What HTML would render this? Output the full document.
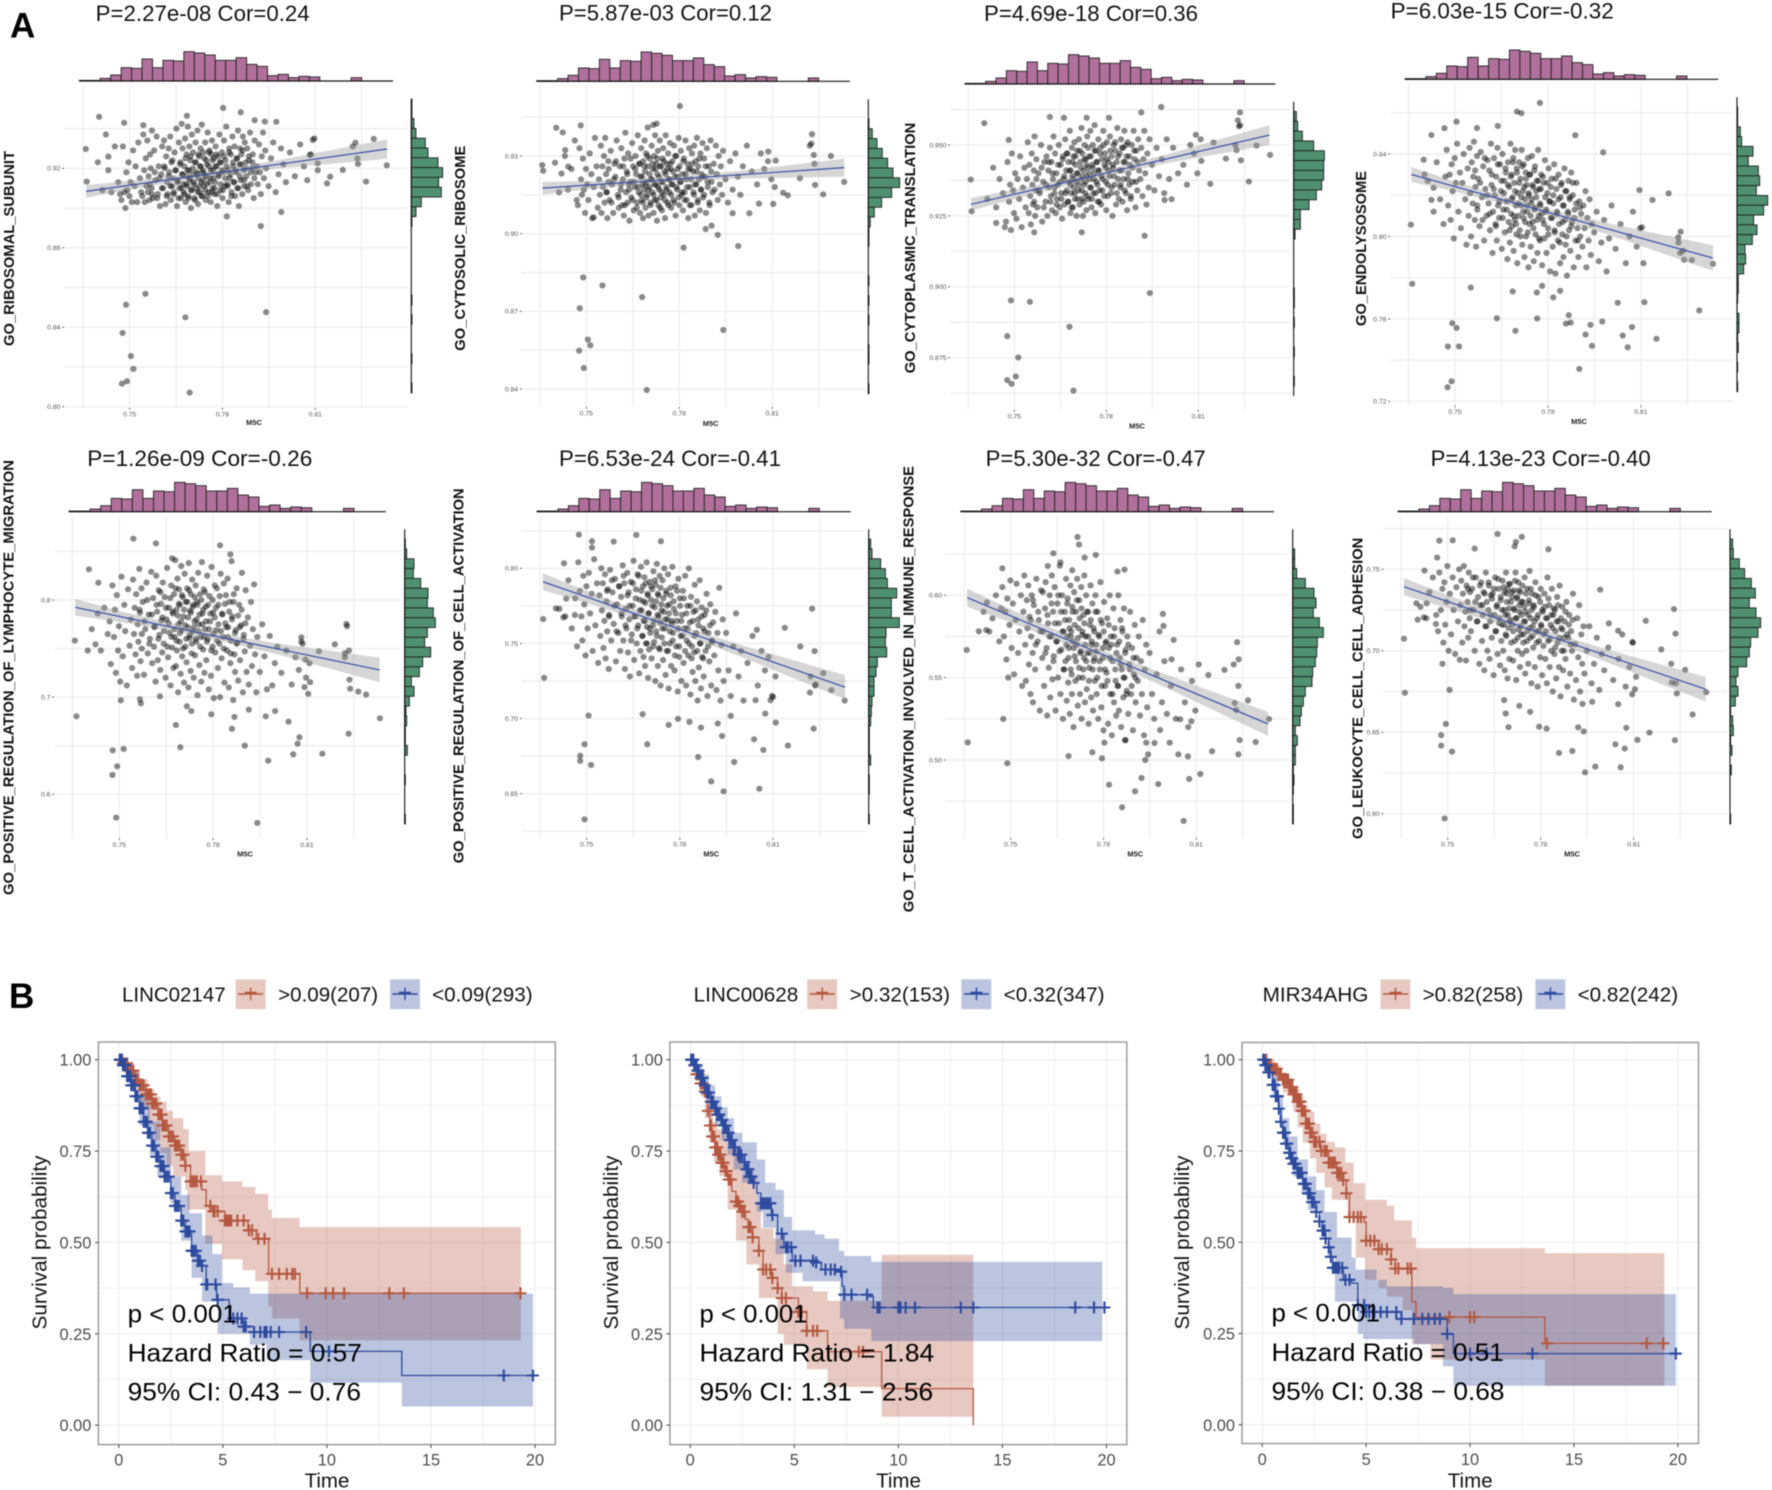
<!DOCTYPE html>
<html lang="en">
<head>
<meta charset="utf-8">
<title>M5C correlation scatter plots and survival curves</title>
<style>
html,body{margin:0;padding:0;background:#fff;width:1772px;height:1490px;overflow:hidden}
svg{display:block;filter:blur(.5px)}
text{font-family:"Liberation Sans",sans-serif}
.t{font-size:22px;fill:#111}
.yl{font-size:15px;font-weight:bold;fill:#111}
.xl{font-size:7.5px;font-weight:bold;fill:#222;text-anchor:middle}
.tag{font-size:35px;font-weight:bold;fill:#000}
.leg{font-size:20.5px;fill:#111}
.ann{font-size:25px;fill:#000}
.kax{font-size:20.5px;fill:#111}
</style>
</head>
<body>
<svg id="figure" width="1772" height="1490" viewBox="0 0 1772 1490" xmlns="http://www.w3.org/2000/svg">
<rect width="1772" height="1490" fill="#fff"/>
<g id="marks"></g>

<text class="tag" x="10" y="37.5">A</text>
<text class="tag" x="9" y="1008">B</text>

<text class="t" x="95.7" y="21" textLength="214" lengthAdjust="spacingAndGlyphs">P=2.27e-08 Cor=0.24</text>
<text class="t" x="559" y="20.7" textLength="213" lengthAdjust="spacingAndGlyphs">P=5.87e-03 Cor=0.12</text>
<text class="t" x="984" y="21" textLength="214" lengthAdjust="spacingAndGlyphs">P=4.69e-18 Cor=0.36</text>
<text class="t" x="1390.7" y="18.3" textLength="223" lengthAdjust="spacingAndGlyphs">P=6.03e-15 Cor=-0.32</text>
<text class="t" x="87.3" y="466" textLength="225" lengthAdjust="spacingAndGlyphs">P=1.26e-09 Cor=-0.26</text>
<text class="t" x="559" y="466" textLength="222" lengthAdjust="spacingAndGlyphs">P=6.53e-24 Cor=-0.41</text>
<text class="t" x="985.7" y="466" textLength="220" lengthAdjust="spacingAndGlyphs">P=5.30e-32 Cor=-0.47</text>
<text class="t" x="1430.7" y="466" textLength="220" lengthAdjust="spacingAndGlyphs">P=4.13e-23 Cor=-0.40</text>

<text class="yl" transform="translate(14,346) rotate(-90)" textLength="195" lengthAdjust="spacingAndGlyphs">GO_RIBOSOMAL_SUBUNIT</text>
<text class="yl" transform="translate(465,350.7) rotate(-90)" textLength="205" lengthAdjust="spacingAndGlyphs">GO_CYTOSOLIC_RIBOSOME</text>
<text class="yl" transform="translate(915,373.3) rotate(-90)" textLength="250.6" lengthAdjust="spacingAndGlyphs">GO_CYTOPLASMIC_TRANSLATION</text>
<text class="yl" transform="translate(1366,326) rotate(-90)" textLength="155" lengthAdjust="spacingAndGlyphs">GO_ENDOLYSOSOME</text>
<text class="yl" transform="translate(13.3,895) rotate(-90)" textLength="435" lengthAdjust="spacingAndGlyphs">GO_POSITIVE_REGULATION_OF_LYMPHOCYTE_MIGRATION</text>
<text class="yl" transform="translate(463.3,863.3) rotate(-90)" textLength="375" lengthAdjust="spacingAndGlyphs">GO_POSITIVE_REGULATION_OF_CELL_ACTIVATION</text>
<text class="yl" transform="translate(913.3,912.3) rotate(-90)" textLength="446.3" lengthAdjust="spacingAndGlyphs">GO_T_CELL_ACTIVATION_INVOLVED_IN_IMMUNE_RESPONSE</text>
<text class="yl" transform="translate(1362.7,839) rotate(-90)" textLength="301.3" lengthAdjust="spacingAndGlyphs">GO_LEUKOCYTE_CELL_CELL_ADHESION</text>

<text class="xl" x="254" y="425">M5C</text>
<text class="xl" x="710.7" y="426">M5C</text>
<text class="xl" x="1137" y="428.7">M5C</text>
<text class="xl" x="1579" y="424">M5C</text>
<text class="xl" x="245" y="856.3">M5C</text>
<text class="xl" x="711.3" y="856.3">M5C</text>
<text class="xl" x="1135.3" y="856.3">M5C</text>
<text class="xl" x="1572" y="856.3">M5C</text>

<text class="leg" x="122" y="1001.4" textLength="103.6" lengthAdjust="spacingAndGlyphs">LINC02147</text>
<text class="leg" x="278.2" y="1001.4" textLength="99.9" lengthAdjust="spacingAndGlyphs">&gt;0.09(207)</text>
<text class="leg" x="432.1" y="1001.4" textLength="100.6" lengthAdjust="spacingAndGlyphs">&lt;0.09(293)</text>
<text class="leg" x="693.6" y="1001.4" textLength="104.7" lengthAdjust="spacingAndGlyphs">LINC00628</text>
<text class="leg" x="849.7" y="1001.4" textLength="100.3" lengthAdjust="spacingAndGlyphs">&gt;0.32(153)</text>
<text class="leg" x="1003.6" y="1001.4" textLength="101" lengthAdjust="spacingAndGlyphs">&lt;0.32(347)</text>
<text class="leg" x="1262.6" y="1001.4" textLength="105.8" lengthAdjust="spacingAndGlyphs">MIR34AHG</text>
<text class="leg" x="1422.6" y="1001.4" textLength="100.7" lengthAdjust="spacingAndGlyphs">&gt;0.82(258)</text>
<text class="leg" x="1577.6" y="1001.4" textLength="100.6" lengthAdjust="spacingAndGlyphs">&lt;0.82(242)</text>

<text class="ann" x="127.6" y="1322.3" textLength="109.2" lengthAdjust="spacingAndGlyphs">p &lt; 0.001</text>
<text class="ann" x="127.6" y="1361.3" textLength="234.2" lengthAdjust="spacingAndGlyphs">Hazard Ratio = 0.57</text>
<text class="ann" x="127.6" y="1400.3" textLength="233.4" lengthAdjust="spacingAndGlyphs">95% CI: 0.43 − 0.76</text>
<text class="ann" x="699.5" y="1322.3" textLength="108" lengthAdjust="spacingAndGlyphs">p &lt; 0.001</text>
<text class="ann" x="699.5" y="1361.3" textLength="234.6" lengthAdjust="spacingAndGlyphs">Hazard Ratio = 1.84</text>
<text class="ann" x="699.5" y="1400.3" textLength="233.6" lengthAdjust="spacingAndGlyphs">95% CI: 1.31 − 2.56</text>
<text class="ann" x="1271.5" y="1321.5" textLength="108.5" lengthAdjust="spacingAndGlyphs">p &lt; 0.001</text>
<text class="ann" x="1271.5" y="1361" textLength="232.2" lengthAdjust="spacingAndGlyphs">Hazard Ratio = 0.51</text>
<text class="ann" x="1271.5" y="1400" textLength="233" lengthAdjust="spacingAndGlyphs">95% CI: 0.38 − 0.68</text>

<text class="kax" x="327" y="1487.7" text-anchor="middle">Time</text>
<text class="kax" x="898.5" y="1487.7" text-anchor="middle">Time</text>
<text class="kax" x="1470.2" y="1487.7" text-anchor="middle">Time</text>
<text class="kax" transform="translate(46.6,1329.5) rotate(-90)" textLength="174" lengthAdjust="spacingAndGlyphs">Survival probability</text>
<text class="kax" transform="translate(618,1329.5) rotate(-90)" textLength="174" lengthAdjust="spacingAndGlyphs">Survival probability</text>
<text class="kax" transform="translate(1189.2,1329.5) rotate(-90)" textLength="174" lengthAdjust="spacingAndGlyphs">Survival probability</text>
</svg>

<script>
// ---------- shared scatter data ----------
const xTickLabels=['0.75','0.78','0.81'];
const xMinorTicks=[.735,.765,.795,.825];
const m5cHistCounts=[1,1,4,9,20,19,33,20,31,30,44,42,39,31,31,35,25,22,8,10,5,7,6,0,0,0,5,0,0,0];
const m5cCore=[.7412,.7431,.7441,.7452,.7463,.7469,.7473,.7478,.7483,.7486,.7489,.7492,.7496,.7499,.7503,.7507,.7511,.7516,.7519,.7524,.7528,.7533,.7537,
.7541,.7544,.7547,.7549,.7552,.7554,.7557,.7559,.7561,.7564,.7566,.7568,.7571,.7572,.7575,.7579,.7583,.7587,.7591,.7594,.7598,.7602,.7605,
.7608,.7611,.7613,.7616,.7618,.7621,.7623,.7626,.7628,.7631,.7633,.7635,.7637,.7639,.7642,.7645,.7648,.7651,.7653,.7656,.7659,.7661,.7664,.7666,.7669,.7671,.7673,
.7675,.7677,.7679,.7681,.7683,.7684,.7686,.7688,.7689,.7691,.7693,.7694,.7696,.7698,.7699,.7701,.7703,.7705,.7707,
.7709,.7711,.7713,.7715,.7717,.7719,.7721,.7722,.7724,.7726,.7728,.7729,.7731,.7733,.7735,.7737,.7738,.7740,
.7742,.7744,.7746,.7748,.7750,.7752,.7754,.7756,.7758,.7760,.7762,.7764,.7766,.7768,.7770,.7772,.7774,
.7776,.7778,.7781,.7783,.7786,.7788,.7790,.7793,.7795,.7798,.7800,.7802,.7805,.7807,
.7810,.7812,.7815,.7817,.7820,.7822,.7824,.7827,.7829,.7832,.7834,.7836,.7839,.7841,
.7844,.7846,.7848,.7850,.7853,.7855,.7857,.7859,.7861,.7864,.7866,.7868,.7870,.7872,.7875,
.7877,.7880,.7883,.7886,.7889,.7892,.7895,.7898,.7901,.7904,.7907,.7911,.7914,.7918,.7921,.7924,.7927,.7931,.7934,.7938,.7941,
.7949,.7957,.7964,.7972,.7981,.7989,.7997,.8005,.8018,.8034,.8051,.8063,.8074,.8086,.8097,.8108,.8221,.8236];
const m5cDense=[.7565,.7572,.7581,.7589,.7596,.7604,.7612,.7619,.7625,.7632,.7638,.7643,.7649,.7654,.7658,.7663,.7667,.7671,.7676,.7680,.7683,.7687,.7690,.7694,.7697,.7700,.7704,.7707,.7711,.7714,.7717,.7720,.7723,.7726,.7729,.7732,.7735,.7738,.7741,.7744,.7747,.7750,.7753,.7756,.7759,.7762,.7765,.7768,.7771,.7774,.7777,.7780,.7784,.7787,.7791,.7794,.7798,.7801,.7805,.7809,.7813,.7817,.7821,.7825,.7829,.7834,.7838,.7842,.7847,.7851,.7856,.7860,.7865,.7870,.7875,.7880,.7885,.7891,.7897,.7903];
const fitX=[.7359,.8332];
const ciX=[.7359,.75,.7775,.80,.8332];

// ---------- panel 1: GO_RIBOSOMAL_SUBUNIT ----------
const p1YTickLabels=['0.80','0.84','0.88','0.92'];
const p1YMinor=[.82,.86,.90,.94];
const p1Core=[.909,.919,.908,.931,.913,.907,.904,.931,.908,.900,.918,.909,.923,.906,.913,.903,.929,.911,.921,.903,.933,.915,.908,
.906,.937,.919,.903,.925,.911,.934,.908,.916,.904,.927,.920,.910,.939,.905,.929,.914,.936,.907,.921,.901,.917,.931,
.910,.934,.920,.902,.926,.913,.907,.930,.918,.936,.904,.923,.911,.915,.907,.928,.919,.940,.901,.914,.933,.910,.923,.905,.917,.930,.912,
.908,.921,.935,.903,.916,.927,.911,.941,.906,.919,.931,.914,.924,.900,.909,.937,.917,.928,.912,
.905,.923,.933,.910,.918,.939,.902,.915,.926,.908,.921,.930,.913,.942,.906,.919,.928,.911,
.917,.933,.904,.924,.912,.938,.908,.921,.929,.915,.903,.927,.934,.910,.919,.925,.907,
.913,.931,.921,.901,.926,.916,.937,.909,.923,.928,.905,.918,.934,.911,
.924,.941,.912,.919,.903,.930,.915,.927,.908,.936,.921,.913,.931,.906,
.918,.925,.910,.939,.901,.922,.930,.914,.927,.907,.936,.919,.911,.933,.923,
.916,.930,.909,.924,.938,.912,.920,.927,.905,.934,.918,.921,.912,.932,.918,.907,.926,.938,.915,.929,.920,
.911,.925,.933,.908,.917,.930,.922,.913,.928,.916,.932,.921,.914,.927,.935,.919,.931,.925];
const p1Dense=[.912,.907,.918,.905,.915,.910,.921,.906,.916,.911,.924,.908,.919,.913,.905,.922,.910,.917,.907,.925,.912,.919,.905,.915,.926,.909,.920,.913,.904,.923,.917,.908,.927,.911,.921,.906,.918,.914,.925,.909,.916,.922,.906,.928,.913,.919,.908,.924,.915,.910,.921,.927,.907,.917,.923,.912,.919,.909,.926,.915,.921,.911,.928,.917,.906,.923,.913,.919,.925,.910,.916,.922,.929,.914,.920,.911,.926,.918,.923,.915];
const p1OutX=[.7477,.7504,.7512,.7475,.7491,.7488,.7551,.768,.7941,.7694,.7924,.799,.7814,.7358,.7361,.7401,.7423,.7397,.7431,.7802,.7859,.7685,.7482,.7544,.7668,.7904,.7937,.7974,.8289,.8331,.8264,.8238,.823,.8189,.8148,.8138,.8092,.8082,.8108];
const p1OutY=[.8371,.8255,.819,.8116,.8128,.8513,.8568,.845,.8476,.8071,.8909,.898,.8958,.9297,.9133,.9459,.937,.923,.9259,.9504,.9482,.9464,.9429,.9417,.9424,.9442,.9435,.9434,.9348,.9215,.9133,.9222,.9329,.9192,.9158,.9124,.9343,.9267,.9225];
const p1Fit=[.9084,.9297];
const p1CiLow=[.9052,.9093,.9163,.9202,.9248];
const p1CiHigh=[.9116,.9137,.9187,.9246,.9346];
const p1Hist=[1,1,4,7,21,25,40,47,41,45,15,7,1,0,0,0,0,0,0,0,1,0,1,0,0,0,1,0,0,1];

// ---------- panel 2: GO_CYTOSOLIC_RIBOSOME ----------
const p2YTickLabels=['0.84','0.87','0.90','0.93'];
const p2YMinor=[.855,.885,.915,.945];
const p2Core=[.916,.930,.917,.925,.936,.913,.911,.933,.921,.915,.929,.917,.908,.925,.919,.913,.931,.923,.906,.918,.937,.926,.910,
.921,.915,.934,.908,.926,.918,.930,.912,.937,.923,.916,.906,.928,.920,.913,.932,.919,.908,.927,.922,.936,.915,.910,
.926,.917,.933,.911,.921,.907,.929,.939,.916,.924,.912,.931,.919,.905,.920,.914,.935,.926,.909,.918,.930,.923,.912,.938,.916,.927,.908,
.922,.933,.913,.919,.906,.928,.917,.936,.924,.910,.931,.920,.915,.941,.926,.907,.918,.929,.912,
.921,.934,.916,.925,.908,.930,.913,.938,.919,.927,.905,.923,.932,.911,.917,.936,.926,.914,
.920,.909,.929,.933,.915,.924,.906,.938,.918,.927,.912,.931,.921,.916,.935,.925,.910,
.919,.928,.913,.934,.922,.907,.930,.917,.925,.937,.911,.920,.932,.915,
.923,.909,.929,.916,.936,.921,.913,.927,.906,.933,.918,.925,.911,.931,
.924,.916,.934,.907,.928,.919,.937,.912,.926,.921,.909,.931,.917,.923,.935,
.914,.929,.922,.908,.933,.918,.926,.911,.936,.920,.916,.927,.917,.934,.923,.913,.930,.919,.926,.915,.932,
.921,.912,.928,.917,.931,.922,.915,.926,.934,.924,.919,.931,.925,.928,.921,.918,.934,.927];
const p2Dense=[.916,.925,.912,.921,.928,.914,.919,.926,.911,.923,.917,.929,.913,.920,.925,.910,.918,.927,.915,.922,.912,.926,.919,.914,.930,.917,.923,.911,.921,.927,.915,.919,.925,.913,.929,.918,.922,.910,.926,.916,.920,.928,.913,.923,.917,.925,.911,.921,.927,.915,.919,.924,.912,.930,.918,.922,.914,.926,.920,.916,.928,.913,.923,.918,.925,.911,.921,.927,.915,.919,.924,.913,.929,.917,.922,.915,.926,.920,.912,.924];
const p2OutX=[.749,.7552,.768,.7479,.7942,.7505,.7513,.7477,.7492,.7695,.7814,.799,.7924,.7885,.7904,.7524,.7802,.7482,.7403,.7424,.7716,.7727,.7432,.7399,.7358,.7361,.7442,.742,.8332,.8264,.8238,.8189,.8289,.8228,.8226,.8234,.8103,.8135,.815,.8111,.8087,.8057,.8026,.7972];
const p2OutY=[.8831,.88,.8755,.8712,.8628,.8591,.8569,.8548,.8481,.8396,.8946,.8952,.8995,.9018,.9031,.9063,.9493,.9418,.9409,.9391,.942,.9425,.9323,.9274,.9265,.9243,.9259,.9232,.92,.9152,.9188,.9214,.93,.9384,.9348,.9304,.9115,.9158,.9148,.9282,.9317,.9116,.9079,.9079];
const p2Fit=[.9176,.9255];
const p2CiLow=[.9152,.9171,.92,.9213,.922];
const p2CiHigh=[.92,.9203,.922,.9243,.929];
const p2Hist=[0,0,1,6,13,21,29,37,47,35,20,9,3,1,1,0,0,0,1,0,1,0,1,0,0,1,1,0,0,1];

// ---------- panel 3: GO_CYTOPLASMIC_TRANSLATION ----------
const p3YTickLabels=['0.875','0.900','0.925','0.950'];
const p3YMinor=[.8625,.8875,.9125,.9375,.9625];
const p3Core=[.931,.942,.928,.938,.933,.921,.923,.944,.930,.936,.920,.947,.934,.926,.940,.924,.938,.931,.946,.921,.935,.942,.928,
.938,.951,.926,.943,.932,.922,.947,.936,.929,.941,.953,.925,.934,.945,.928,.940,.933,.950,.923,.937,.944,.930,.946,
.925,.941,.935,.949,.930,.944,.927,.938,.953,.933,.947,.926,.940,.931,.936,.950,.928,.943,.933,.924,.946,.938,.929,.952,.941,.934,.947,
.930,.944,.937,.955,.926,.941,.933,.949,.939,.928,.946,.935,.951,.931,.943,.937,.925,.948,.940,
.934,.952,.929,.944,.938,.956,.931,.947,.925,.941,.936,.950,.933,.945,.927,.939,.953,.942,
.931,.946,.938,.955,.935,.928,.943,.950,.933,.940,.957,.926,.948,.937,.944,.930,.952,
.941,.934,.949,.929,.945,.938,.955,.932,.947,.942,.927,.951,.936,.944,
.939,.953,.933,.946,.925,.942,.950,.936,.948,.929,.944,.956,.938,.931,
.947,.935,.952,.941,.930,.949,.938,.955,.944,.933,.946,.927,.951,.940,.936,
.943,.931,.950,.937,.955,.945,.928,.948,.934,.952,.941,.938,.949,.932,.945,.955,.940,.929,.947,.935,.952,
.943,.934,.949,.939,.945,.933,.952,.938,.949,.940,.943,.936,.950,.947,.940,.952,.950,.957];
const p3Dense=[.930,.938,.934,.942,.928,.936,.944,.932,.940,.935,.929,.943,.937,.931,.945,.939,.933,.947,.930,.941,.936,.928,.944,.938,.933,.946,.940,.931,.936,.948,.942,.934,.939,.930,.945,.937,.943,.932,.949,.940,.935,.946,.931,.942,.938,.948,.933,.944,.936,.941,.930,.947,.939,.934,.950,.943,.937,.945,.932,.941,.948,.935,.943,.939,.951,.933,.946,.941,.936,.949,.944,.934,.950,.938,.946,.932,.942,.948,.937,.944];
const p3OutX=[.7489,.7551,.768,.7942,.7477,.7513,.7505,.7477,.7491,.7693,.7925,.772,.7565,.7441,.7402,.7482,.7616,.7662,.7736,.7809,.7914,.7979,.7358,.7361,.8236,.8229,.8233,.8334,.829,.8265,.8239,.8225,.819,.8139,.815,.811,.8092,.8013,.799];
const p3OutY=[.8952,.8947,.8859,.8978,.8826,.8751,.8684,.8671,.8658,.8634,.918,.9192,.9192,.9225,.9577,.9518,.9599,.9596,.9596,.9596,.9615,.9634,.9378,.9266,.9615,.9587,.9566,.9465,.9498,.9371,.9446,.9482,.9452,.9363,.9509,.9444,.9536,.9309,.9306];
const p3Fit=[.9291,.9535];
const p3CiLow=[.9269,.9309,.9385,.9436,.95];
const p3CiHigh=[.9313,.9343,.9405,.9468,.957];
const p3Hist=[0,4,6,13,30,46,45,45,42,34,23,10,10,2,0,0,0,0,0,1,1,0,1,0,0,1,0,0,1,0];

// ---------- panel 4: GO_ENDOLYSOSOME ----------
const p4YTickLabels=['0.72','0.76','0.80','0.84'];
const p4YMinor=[.74,.78,.82,.86];
const p4Core=[.827,.812,.836,.818,.806,.829,.842,.815,.830,.808,.835,.822,.799,.838,.826,.845,.812,.831,.804,.826,.840,.818,.796,
.833,.810,.843,.821,.800,.836,.816,.829,.846,.808,.824,.795,.839,.813,.828,.805,.841,.819,.834,.798,.823,.810,.837,
.816,.832,.803,.845,.825,.792,.812,.838,.820,.806,.829,.798,.843,.815,.809,.835,.822,.794,.840,.813,.827,.802,.831,.817,.789,.836,.807,
.824,.797,.845,.811,.830,.805,.819,.838,.793,.826,.808,.842,.815,.801,.833,.787,.821,.810,.836,
.803,.828,.815,.842,.796,.822,.809,.835,.790,.818,.831,.800,.825,.812,.838,.785,.820,.806,
.830,.795,.816,.839,.807,.824,.788,.813,.834,.801,.819,.827,.792,.842,.810,.823,.798,
.815,.830,.786,.808,.826,.799,.837,.812,.792,.821,.804,.833,.817,.783,
.809,.828,.795,.816,.835,.802,.782,.823,.811,.798,.830,.806,.787,.819,
.826,.801,.815,.790,.833,.808,.796,.822,.781,.812,.827,.803,.818,.793,.831,
.807,.820,.785,.813,.798,.826,.804,.790,.817,.800,.811,.795,.815,.804,.822,.785,.809,.798,.818,.791,.806,
.802,.812,.788,.797,.808,.783,.799,.815,.794,.806,.787,.800,.812,.795,.804,.787,.797,.793];
const p4Dense=[.832,.815,.826,.808,.838,.820,.811,.830,.823,.805,.835,.817,.827,.809,.821,.833,.813,.825,.803,.829,.818,.836,.810,.822,.806,.831,.816,.826,.800,.819,.834,.812,.824,.807,.828,.815,.802,.821,.830,.810,.818,.825,.804,.832,.814,.822,.808,.827,.799,.816,.823,.811,.829,.806,.819,.813,.826,.801,.817,.824,.809,.820,.803,.828,.812,.818,.797,.825,.807,.815,.822,.800,.811,.819,.805,.826,.809,.816,.798,.814];
const p4OutX=[.7362,.7358,.7491,.7505,.7477,.7513,.7476,.7489,.7901,.7635,.7695,.7765,.7551,.7686,.7764,.7781,.7817,.7839,.7867,.7858,.7873,.7937,.7975,.7921,.7942,.8025,.8111,.8041,.8071,.8057,.815,.8288,.8332,.8264,.8239,.8226,.8228,.822,.8189,.8137,.8103,.8095,.7505,.7424,.7466,.77,.7714,.7774,.7638,.7571,.7888,.7978,.7399,.7402,.7424,.7431];
const p4OutY=[.777,.8057,.7579,.7556,.7466,.7466,.7268,.7297,.7357,.7603,.7542,.7602,.7752,.7733,.7728,.776,.7704,.7736,.7618,.7577,.7582,.7571,.7587,.7524,.7469,.7678,.7681,.7519,.756,.7462,.7503,.7641,.7867,.7885,.7887,.792,.8023,.7995,.8209,.8177,.8044,.8225,.8557,.8492,.8525,.8606,.8598,.8648,.8536,.8526,.8491,.8408,.8372,.8301,.8177,.8236];
const p4Fit=[.8301,.7895];
const p4CiLow=[.8265,.8218,.8112,.8006,.7833];
const p4CiHigh=[.8337,.8266,.8142,.8062,.7957];
const p4Hist=[0,1,1,5,7,24,17,32,34,29,46,40,25,30,23,12,13,10,2,2,1,0,3,3,1,2,0,1,0,1];

// ---------- panel 5: GO_POSITIVE_REGULATION_OF_LYMPHOCYTE_MIGRATION ----------
const p5YTickLabels=['0.6','0.7','0.8'];
const p5YMinor=[.65,.75,.85];
const p5Core=[.770,.786,.748,.792,.765,.778,.734,.815,.762,.790,.725,.805,.748,.773,.716,.824,.742,.795,.768,.712,.811,.753,.780,
.730,.821,.765,.792,.744,.806,.722,.775,.757,.832,.787,.737,.812,.750,.798,.723,.770,.818,.745,.785,.760,.829,.735,
.802,.752,.773,.716,.825,.788,.738,.810,.764,.728,.796,.779,.746,.818,.755,.803,.720,.780,.833,.741,.792,.766,.712,.815,.751,.786,.730,
.806,.762,.841,.732,.790,.748,.822,.705,.775,.811,.757,.795,.724,.835,.769,.742,.803,.783,.715,
.827,.752,.798,.736,.812,.772,.710,.838,.761,.789,.727,.806,.745,.821,.768,.795,.720,.778,
.743,.815,.757,.798,.702,.828,.775,.733,.806,.762,.716,.839,.786,.749,.811,.725,.770,
.793,.738,.825,.760,.708,.804,.778,.722,.834,.752,.787,.699,.815,.746,
.769,.812,.730,.795,.755,.700,.827,.740,.785,.762,.817,.715,.776,.805,
.748,.822,.772,.710,.798,.735,.758,.840,.783,.697,.806,.744,.726,.769,.812,
.756,.717,.795,.738,.774,.828,.705,.764,.747,.810,.726,.782,.713,.753,.798,.732,.770,.816,.744,.705,.762,
.726,.775,.742,.708,.763,.712,.735,.752,.725,.748,.713,.741,.728,.755,.720,.735,.741,.718];
const p5Dense=[.790,.765,.778,.800,.755,.785,.772,.795,.760,.808,.782,.768,.792,.752,.776,.802,.762,.788,.770,.812,.758,.784,.796,.766,.778,.805,.750,.790,.774,.760,.798,.782,.810,.764,.787,.755,.793,.772,.803,.760,.780,.795,.768,.785,.752,.800,.775,.790,.762,.808,.778,.757,.795,.770,.786,.748,.800,.765,.782,.792,.758,.775,.804,.768,.786,.750,.796,.772,.762,.788,.745,.780,.798,.766,.755,.784,.772,.790,.760,.776];
const p5OutX=[.7363,.7358,.7399,.7424,.7403,.7433,.7545,.7617,.7822,.7855,.7669,.7479,.7514,.7493,.7478,.749,.7941,.7695,.7901,.7976,.8056,.8149,.8076,.807,.8233,.8333,.8041,.786,.7681,.7794,.8289,.8264,.8238,.8104,.811,.8092,.8095,.8138,.8189,.8221,.8234,.8226,.8228,.8082,.8082,.7998,.7968,.7868,.7914,.7505,.7566,.7569,.763,.7716,.773];
const p5OutY=[.6803,.7582,.7479,.7544,.8316,.8178,.8631,.8583,.8563,.847,.8429,.6453,.6467,.6288,.6199,.576,.5705,.6484,.6501,.6346,.6411,.6418,.6587,.6521,.6624,.6782,.6748,.6674,.6714,.6823,.7027,.7057,.7087,.7034,.7154,.7104,.7386,.7472,.7544,.7451,.7479,.7753,.7729,.7616,.7571,.6857,.6803,.6796,.6871,.6967,.6978,.6936,.7009,.6906,.6857];
const p5Fit=[.7925,.728];
const p5CiLow=[.7839,.7775,.7615,.7445,.7153];
const p5CiHigh=[.8011,.7887,.7683,.7555,.7407];
const p5Hist=[0,1,3,14,13,24,35,34,43,46,34,30,39,27,22,10,14,7,2,3,1,1,4,0,0,1,0,0,0,1];

// ---------- panel 6: GO_POSITIVE_REGULATION_OF_CELL_ACTIVATION ----------
const p6YTickLabels=['0.65','0.70','0.75','0.80'];
const p6YMinor=[.625,.675,.725,.775,.825];
const p6Core=[.773,.768,.792,.760,.780,.748,.804,.785,.768,.752,.795,.776,.742,.788,.760,.797,.770,.783,.745,.806,.762,.790,.737,
.782,.755,.800,.772,.790,.747,.765,.796,.740,.778,.758,.786,.733,.769,.799,.752,.784,.763,.793,.738,.776,.757,.788,
.745,.781,.768,.802,.752,.790,.733,.773,.760,.797,.744,.784,.766,.728,.791,.756,.775,.805,.739,.768,.786,.750,.796,.762,.730,.779,.745,
.801,.772,.755,.788,.741,.765,.794,.735,.777,.750,.804,.761,.783,.727,.770,.746,.791,.757,.779,
.740,.786,.762,.798,.751,.774,.725,.789,.758,.803,.769,.735,.782,.747,.795,.764,.722,.776,
.754,.792,.739,.771,.800,.760,.729,.783,.745,.766,.796,.720,.776,.750,.787,.735,.763,
.801,.757,.773,.732,.788,.748,.765,.718,.793,.741,.780,.755,.725,.769,
.785,.737,.760,.795,.722,.752,.775,.742,.800,.764,.716,.781,.748,.731,
.771,.744,.789,.725,.757,.778,.712,.766,.734,.792,.750,.720,.774,.741,.760,
.728,.769,.745,.783,.715,.757,.738,.776,.722,.751,.764,.742,.771,.719,.757,.732,.787,.712,.749,.766,.725,
.757,.732,.715,.748,.770,.728,.745,.712,.737,.755,.722,.745,.732,.741,.715,.728,.728,.722];
const p6Dense=[.785,.768,.792,.775,.758,.788,.770,.795,.762,.782,.775,.752,.790,.768,.780,.760,.795,.772,.785,.755,.778,.765,.790,.750,.782,.770,.760,.788,.775,.748,.765,.792,.778,.755,.783,.768,.746,.787,.772,.760,.780,.750,.766,.785,.775,.745,.770,.758,.782,.765,.752,.778,.742,.770,.785,.760,.748,.775,.765,.755,.780,.745,.770,.760,.750,.775,.740,.765,.755,.772,.745,.762,.750,.768,.740,.758,.772,.748,.762,.752];
const p6OutX=[.736,.7363,.7475,.7517,.7517,.7587,.766,.7739,.7493,.7695,.7506,.7493,.7479,.7479,.7514,.7859,.7901,.7941,.8056,.7975,.7936,.8039,.8069,.8148,.8231,.8331,.8288,.8262,.8237,.8219,.8226,.8234,.8188,.8138,.8048,.8109,.8075,.7964,.7922,.7868,.7831,.7794,.7764,.768,.81,.8092,.8044,.7425,.7401,.7427,.7434,.7462];
const p6OutY=[.7662,.7271,.8224,.818,.8138,.8178,.8222,.818,.6329,.6829,.702,.6829,.6753,.6718,.6691,.6744,.6582,.6516,.6533,.6711,.6884,.6862,.6791,.682,.6933,.712,.7189,.7302,.7227,.7173,.7731,.7449,.748,.7604,.7591,.6973,.7033,.7018,.6967,.694,.6978,.6998,.6958,.7029,.7144,.7122,.7122,.7673,.7733,.8033,.7798,.7689];
const p6Fit=[.7911,.7209];
const p6CiLow=[.7855,.777,.7587,.7408,.7129];
const p6CiHigh=[.7967,.7848,.7633,.7488,.7289];
const p6Hist=[0,3,5,18,25,28,42,34,34,46,26,25,27,13,11,8,8,5,4,3,1,1,1,3,0,1,1,0,0,1];

// ---------- panel 7: GO_T_CELL_ACTIVATION_INVOLVED_IN_IMMUNE_RESPONSE ----------
const p7YTickLabels=['0.50','0.55','0.60'];
const p7YMinor=[.475,.525,.575,.625];
const p7Core=[.590,.578,.586,.600,.572,.592,.605,.575,.590,.561,.598,.550,.582,.609,.568,.595,.552,.585,.607,.565,.578,.600,.545,
.590,.612,.570,.548,.597,.580,.606,.558,.587,.540,.575,.600,.565,.535,.594,.555,.610,.572,.585,.530,.603,.562,.578,
.545,.592,.608,.568,.527,.583,.556,.600,.538,.575,.612,.549,.590,.563,.605,.530,.572,.595,.550,.583,.618,.540,.567,.600,.525,.578,.555,
.590,.560,.610,.536,.575,.598,.547,.568,.585,.528,.606,.555,.578,.540,.593,.572,.520,.602,.563,
.548,.590,.570,.610,.533,.580,.556,.597,.540,.566,.605,.525,.576,.550,.588,.562,.612,.535,
.575,.600,.543,.565,.590,.522,.556,.582,.606,.538,.570,.595,.530,.560,.578,.548,.600,
.566,.540,.590,.525,.575,.555,.608,.532,.583,.562,.518,.596,.545,.571,
.553,.586,.522,.568,.600,.540,.575,.515,.560,.592,.535,.580,.548,.527,
.570,.545,.600,.530,.562,.585,.520,.555,.578,.538,.592,.550,.512,.567,.542,
.575,.528,.558,.590,.540,.568,.518,.552,.582,.535,.562,.548,.575,.527,.560,.540,.585,.515,.555,.570,.532,
.565,.540,.525,.552,.578,.535,.560,.528,.545,.525,.555,.535,.520,.548,.530,.558,.558,.545];
const p7Dense=[.585,.597,.570,.590,.578,.602,.565,.588,.575,.595,.560,.583,.572,.600,.566,.590,.578,.555,.585,.570,.595,.562,.580,.575,.552,.590,.568,.582,.560,.597,.574,.550,.586,.565,.592,.578,.555,.583,.570,.560,.590,.575,.548,.565,.585,.572,.555,.580,.562,.590,.570,.550,.576,.560,.585,.545,.568,.578,.555,.572,.548,.582,.562,.570,.540,.575,.555,.565,.545,.572,.558,.580,.550,.565,.540,.570,.555,.545,.562,.550];
const p7OutX=[.7358,.7361,.7476,.7489,.7397,.7421,.7423,.7473,.7638,.7716,.7721,.7775,.7739,.7661,.762,.7699,.7868,.7845,.7687,.7764,.7795,.7818,.7902,.786,.7977,.7923,.8059,.8077,.8113,.8073,.8042,.7935,.7944,.8151,.8236,.824,.8292,.8335,.8267,.8224,.8229,.8191,.8237,.8232,.8139,.8027,.802,.7992,.7994,.8014,.7965,.7938,.7871,.7803,.8084,.8048,.7983];
const p7OutY=[.5668,.5107,.5249,.498,.5781,.5789,.5957,.6164,.6255,.6354,.6308,.6245,.6229,.62,.6178,.6152,.6156,.6144,.5024,.5047,.501,.485,.481,.4713,.4854,.4891,.463,.4885,.4915,.5022,.5034,.5,.5034,.5053,.5034,.5121,.5109,.5249,.5362,.5346,.5304,.5547,.5611,.5715,.5516,.5729,.5611,.5887,.5814,.5105,.5103,.5105,.5121,.5105,.5235,.5247,.5182];
const p7Fit=[.5986,.5219];
const p7CiLow=[.5931,.5835,.5635,.5441,.5146];
const p7CiHigh=[.6041,.5915,.5681,.5521,.5292];
const p7Hist=[0,0,3,3,6,19,32,35,31,40,46,37,36,34,30,29,19,16,13,11,4,7,4,4,1,2,1,0,1,1];

// ---------- panel 8: GO_LEUKOCYTE_CELL_CELL_ADHESION ----------
const p8YTickLabels=['0.60','0.65','0.70','0.75'];
const p8YMinor=[.625,.675,.725,.775];
const p8Core=[.727,.720,.736,.745,.722,.712,.748,.725,.738,.705,.742,.716,.730,.752,.700,.735,.710,.745,.725,.698,.739,.718,.750,
.728,.743,.705,.735,.752,.715,.724,.694,.740,.730,.708,.748,.720,.736,.712,.738,.725,.700,.745,.718,.733,.692,.728,
.742,.706,.722,.736,.688,.715,.748,.730,.700,.725,.740,.695,.718,.734,.708,.735,.685,.722,.745,.712,.728,.698,.738,.717,.691,.731,.706,
.725,.743,.700,.716,.736,.688,.722,.748,.709,.730,.683,.738,.714,.726,.695,.741,.719,.705,.733,
.716,.694,.737,.725,.706,.748,.682,.720,.733,.700,.742,.713,.728,.690,.736,.710,.722,.698,
.730,.705,.718,.745,.686,.724,.700,.738,.712,.692,.729,.749,.708,.720,.680,.735,.715,
.702,.727,.690,.742,.712,.720,.678,.733,.706,.696,.738,.715,.685,.724,
.710,.735,.695,.720,.680,.745,.706,.728,.690,.716,.700,.738,.675,.722,
.698,.725,.712,.683,.733,.705,.718,.690,.740,.672,.714,.700,.727,.688,.708,
.718,.695,.730,.678,.708,.722,.686,.712,.700,.735,.670,.704,.682,.720,.696,.728,.675,.710,.692,.715,.686,
.700,.715,.680,.692,.708,.676,.698,.688,.702,.682,.695,.710,.678,.690,.705,.684,.692,.680];
const p8Dense=[.738,.725,.745,.730,.718,.740,.728,.735,.715,.742,.722,.732,.738,.712,.727,.744,.720,.733,.716,.739,.725,.710,.735,.722,.741,.718,.730,.736,.712,.726,.743,.720,.732,.708,.737,.724,.715,.730,.740,.710,.727,.718,.735,.706,.722,.731,.714,.738,.725,.709,.728,.718,.734,.705,.722,.712,.730,.716,.725,.703,.727,.712,.720,.732,.707,.722,.714,.726,.702,.718,.728,.708,.720,.713,.700,.724,.710,.716,.704,.719];
const p8OutX=[.7359,.7362,.749,.7479,.7479,.7494,.7514,.7943,.7976,.8058,.8071,.8041,.7902,.7859,.8112,.8151,.8233,.8076,.829,.8239,.8334,.8266,.8223,.8235,.823,.8139,.8189,.8096,.805,.802,.7992,.7473,.7516,.7661,.7739,.772,.7716,.7825,.7587,.7466,.7425,.7399,.7432,.7403,.7423,.7462,.7483,.7506,.7539,.8104,.8095,.805,.7966,.7935,.7696,.7795,.7819,.7921,.7939,.7687,.7766,.7731,.7682];
const p8OutY=[.7074,.6742,.5971,.6418,.6482,.6551,.6381,.6254,.6289,.6285,.64,.6426,.6385,.6373,.6453,.6498,.6451,.6527,.6609,.6738,.6746,.6883,.6805,.7105,.7256,.7184,.7008,.7053,.7123,.7168,.7375,.7676,.7678,.7717,.7699,.7668,.7641,.7623,.7627,.7572,.7492,.7291,.7291,.7191,.7205,.7164,.692,.676,.6945,.6764,.6733,.6672,.6687,.6674,.6531,.6534,.6522,.653,.6505,.6615,.6625,.6662,.6697];
const p8Fit=[.7393,.6764];
const p8CiLow=[.734,.7262,.7101,.694,.6688];
const p8CiHigh=[.7446,.7342,.7147,.7016,.684];
const p8Hist=[0,4,5,14,22,32,38,29,39,46,42,31,29,25,12,9,12,8,1,4,5,1,3,0,2,0,0,0,0,1];

// ---------- survival data ----------
const kmXTickLabels=['0','5','10','15','20'];
const kmYTickLabels=['0.00','0.25','0.50','0.75','1.00'];
const kmXMinor=[2.5,7.5,12.5,17.5];
const kmYMinor=[.125,.375,.625,.875];

const km1RedCurve=[[0,1],[.2,.99],[.5,.97],[.8,.945],[1,.93],[1.3,.905],[1.6,.88],[1.9,.85],[2.1,.82],[2.4,.79],[2.7,.765],[3,.74],[3.2,.71],[3.45,.667],[3.98,.644],[4.2,.60],[4.5,.585],[5.1,.56],[6.2,.533],[6.6,.51],[7.2,.414],[8.7,.361],[19.3,.361]];
const km1RedUpper=[[0,1],[.3,.985],[.7,.965],[1,.945],[1.4,.92],[1.7,.90],[2,.885],[2.3,.86],[2.6,.84],[3.1,.81],[3.36,.75],[4.16,.684],[4.96,.667],[5.94,.652],[6.56,.633],[7.18,.59],[7.36,.567],[8.69,.542],[19.32,.542]];
const km1RedLower=[[0,1],[.3,.96],[.7,.91],[1,.87],[1.4,.82],[1.7,.78],[2,.745],[2.3,.71],[2.6,.68],[3.2,.644],[3.3,.59],[4.16,.496],[4.96,.454],[5.94,.424],[6.56,.394],[7.18,.324],[7.36,.292],[8.69,.232],[19.32,.232]];
const km1RedCensor=[.05,.1,.15,.2,.3,.4,.5,.6,.7,.8,.9,1,1.05,1.1,1.2,1.3,1.4,1.5,1.55,1.6,1.7,1.8,1.9,2,2.05,2.1,2.2,2.3,2.4,2.5,2.6,2.7,2.8,2.9,3,3.1,3.2,3.45,3.55,3.65,3.75,3.95,4.4,4.55,4.6,4.75,5.1,5.2,5.3,5.35,5.4,5.7,6,6.25,6.4,6.7,7,7.36,7.7,8.07,8.34,8.46,9.05,9.94,10.3,10.83,13,13.7,19.3];
const km1BlueCurve=[[0,1],[.2,.985],[.4,.955],[.6,.93],[.8,.90],[1,.867],[1.2,.83],[1.4,.80],[1.6,.765],[1.8,.735],[2,.709],[2.2,.68],[2.5,.635],[2.7,.60],[3,.56],[3.2,.53],[3.5,.477],[3.8,.45],[4,.436],[4.2,.385],[4.7,.343],[5.3,.292],[6,.27],[6.5,.255],[9.2,.202],[13.6,.136],[19.9,.136]];
const km1BlueUpper=[[0,1],[.5,.97],[1,.91],[1.5,.83],[2,.76],[2.5,.68],[3,.63],[3.4,.58],[4,.519],[4.5,.468],[4.96,.389],[5.5,.377],[6.3,.36],[19.9,.36]];
const km1BlueLower=[[0,1],[.5,.93],[1,.82],[1.5,.74],[1.85,.681],[2.5,.607],[3,.505],[3.5,.403],[4,.338],[4.75,.25],[6.3,.22],[7.1,.178],[9.2,.116],[13.6,.051],[19.9,.051]];
const km1BlueCensor=[.05,.1,.15,.2,.25,.3,.4,.45,.5,.55,.6,.7,.75,.8,.85,.9,1,1.05,1.1,1.15,1.2,1.3,1.35,1.4,1.5,1.6,1.65,1.7,1.8,1.85,1.9,2,2.05,2.1,2.15,2.2,2.3,2.4,2.5,2.6,2.7,2.8,2.9,3,3.05,3.1,3.2,3.3,3.4,3.5,3.55,3.6,3.7,3.8,3.9,4,4.2,4.25,4.65,4.75,5.5,5.7,5.9,6,6.1,6.5,6.8,7,7.1,7.3,7.7,9,10.1,18.5,19.9];

const km2RedCurve=[[0,1],[.15,.985],[.3,.96],[.5,.935],[.7,.913],[.85,.86],[.95,.82],[1.05,.79],[1.2,.76],[1.35,.74],[1.5,.718],[1.65,.695],[1.8,.672],[2,.64],[2.2,.612],[2.35,.6],[2.5,.584],[2.65,.563],[2.8,.542],[3,.514],[3.3,.477],[3.5,.426],[3.9,.403],[4.2,.375],[4.4,.348],[5.2,.31],[5.6,.258],[6.6,.201],[9.2,.10],[13.6,0]];
const km2RedUpper=[[0,1],[.3,.98],[.5,.94],[.75,.885],[.9,.86],[1.1,.83],[1.3,.81],[1.7,.78],[2.2,.755],[2.5,.686],[3.2,.607],[3.4,.538],[4,.51],[4.5,.44],[4.9,.38],[5.9,.366],[6.6,.34],[7.3,.34],[9.2,.466],[13.6,.466]];
const km2RedLower=[[0,1],[.2,.96],[.5,.9],[.7,.84],[.9,.774],[1.15,.72],[1.4,.681],[1.8,.59],[2.2,.505],[2.7,.44],[3.3,.348],[4.2,.25],[4.5,.22],[5.6,.153],[6.6,.105],[9.2,.023],[13.6,.023]];
const km2RedCensor=[.05,.1,.2,.3,.4,.5,.6,.7,.85,.95,1,1.05,1.15,1.2,1.25,1.3,1.35,1.4,1.45,1.5,1.55,1.6,1.7,1.75,1.85,1.95,2.2,2.3,2.35,2.4,2.5,2.6,2.8,2.85,2.9,3,3.3,3.5,3.65,3.85,3.95,4.2,4.4,4.6,5.2,5.35,5.6,5.9,6.1,8.1,8.3];
const km2BlueCurve=[[0,1],[.2,.985],[.35,.97],[.5,.95],[.65,.93],[.8,.91],[1,.885],[1.15,.867],[1.3,.85],[1.45,.835],[1.6,.82],[1.75,.80],[1.9,.78],[2.1,.76],[2.3,.74],[2.5,.72],[2.7,.70],[2.85,.68],[3,.663],[3.2,.635],[3.4,.607],[3.9,.575],[4.2,.524],[4.5,.487],[4.9,.45],[6,.445],[6.3,.426],[7.1,.42],[7.3,.38],[7.4,.357],[8.6,.352],[8.8,.322],[19.9,.322]];
const km2BlueUpper=[[0,1],[.3,.985],[.6,.96],[.9,.93],[1.2,.90],[1.5,.87],[1.8,.84],[2.1,.80],[2.5,.774],[3.2,.727],[3.6,.663],[4.1,.644],[4.5,.57],[4.9,.533],[6,.522],[6.45,.51],[7.15,.477],[7.4,.463],[8.7,.447],[19.8,.447]];
const km2BlueLower=[[0,1],[.3,.96],[.6,.92],[.9,.87],[1.2,.82],[1.5,.78],[1.8,.74],[2.1,.70],[2.5,.663],[3.2,.584],[3.5,.54],[4.1,.468],[4.6,.417],[5.4,.394],[7.2,.292],[7.4,.264],[8.7,.23],[19.8,.23]];
const km2BlueCensor=[.05,.1,.15,.2,.3,.35,.4,.5,.55,.6,.7,.8,.85,.9,1,1.05,1.1,1.2,1.25,1.3,1.4,1.5,1.55,1.6,1.7,1.8,1.85,1.9,2,2.1,2.15,2.3,2.35,2.45,2.6,2.7,2.8,2.85,2.95,3.05,3.4,3.5,3.6,3.7,3.75,3.85,3.95,4.4,4.6,4.7,4.85,5.05,5.3,5.9,6.05,6.5,6.75,6.95,7.25,7.4,7.75,8.5,9,9.1,10,10.1,10.35,10.8,13,13.6,18.5,19.4,19.9];

const km3RedCurve=[[0,1],[.3,.985],[.5,.975],[.8,.96],[1,.945],[1.3,.925],[1.5,.905],[1.7,.885],[1.9,.86],[2.1,.825],[2.3,.80],[2.5,.775],[2.8,.75],[3.2,.718],[3.6,.69],[3.9,.67],[4.05,.634],[4.2,.569],[4.9,.555],[5,.504],[5.6,.481],[6.2,.453],[6.4,.428],[7.2,.337],[7.4,.295],[13.6,.223],[19.3,.223]];
const km3RedUpper=[[0,1],[.6,.985],[.9,.965],[1.2,.94],[1.5,.92],[1.8,.90],[2,.875],[2.2,.857],[2.5,.825],[2.8,.797],[3.1,.775],[3.5,.76],[4,.718],[4.4,.662],[4.95,.616],[6,.60],[6.35,.56],[7.2,.513],[7.4,.484],[13.6,.47],[19.35,.47]];
const km3RedLower=[[0,1],[.3,.975],[.6,.95],[1,.91],[1.5,.857],[1.7,.815],[1.95,.773],[2.3,.73],[2.6,.69],[3,.65],[3.35,.616],[4.1,.569],[4.5,.458],[4.95,.397],[5.6,.374],[6,.351],[6.75,.314],[7.2,.221],[8.1,.179],[13.6,.107],[19.35,.107]];
const km3RedCensor=[.2,.3,.4,.5,.6,.7,.8,.9,1,1.05,1.1,1.2,1.25,1.3,1.35,1.4,1.45,1.5,1.55,1.6,1.65,1.7,1.75,1.8,1.85,1.9,1.95,2,2.05,2.1,2.15,2.2,2.25,2.3,2.4,2.5,2.55,2.6,2.75,2.85,3,3.1,3.2,3.3,3.4,3.5,3.6,3.7,3.8,3.9,4.05,4.2,4.4,4.6,4.75,5,5.2,5.4,5.6,5.75,6,6.2,6.4,6.55,7,7.15,9,10,10.2,13.7,18.5,19.3];
const km3BlueCurve=[[0,1],[.15,.985],[.3,.965],[.5,.931],[.65,.90],[.8,.866],[.9,.83],[1,.80],[1.15,.77],[1.3,.745],[1.4,.73],[1.5,.715],[1.7,.69],[1.95,.66],[2.2,.634],[2.4,.61],[2.6,.583],[2.75,.557],[2.9,.532],[3.05,.51],[3.2,.486],[3.3,.46],[3.4,.43],[3.9,.397],[4.3,.388],[4.6,.328],[5,.309],[6.7,.29],[8.9,.249],[9.2,.195],[19.9,.195]];
const km3BlueUpper=[[0,1],[.3,.985],[.5,.955],[.8,.90],[1,.84],[1.3,.79],[1.7,.727],[2.2,.68],[2.6,.643],[3,.583],[3.6,.513],[4.3,.458],[4.5,.425],[5.5,.397],[6,.379],[8.7,.375],[9.2,.358],[19.9,.358]];
const km3BlueLower=[[0,1],[.3,.95],[.5,.905],[.8,.83],[1,.77],[1.3,.72],[1.5,.68],[1.9,.63],[2.2,.588],[2.8,.53],[3.15,.458],[3.5,.337],[4.6,.249],[4.85,.235],[7.3,.221],[8.7,.16],[9.2,.107],[19.9,.107]];
const km3BlueCensor=[.05,.1,.15,.2,.3,.35,.5,.55,.6,.65,.7,.75,.8,.9,1,1.05,1.1,1.15,1.2,1.3,1.35,1.4,1.45,1.5,1.55,1.6,1.7,1.75,1.8,1.85,1.9,2,2.05,2.1,2.2,2.3,2.4,2.5,2.6,2.75,2.9,3,3.05,3.2,3.3,3.4,3.5,3.6,3.7,3.85,4,4.2,4.6,4.9,5,5.15,5.4,5.7,6,6.45,6.7,7.3,7.7,8,8.3,8.55,8.9,10,10.8,13,19.9];

// ---------- rendering ----------
const SVGNS='http://www.w3.org/2000/svg';
const root=document.getElementById('marks');
function add(parent,tag,props,name){
  const el=document.createElementNS(SVGNS,tag);
  for(const k in props){el.setAttribute(k,props[k]);}
  
  
  parent.appendChild(el);
  return el;
}
function linear(v0,p0,v1,p1){return v=>p0+(v-v0)*(p1-p0)/(v1-v0);}

const scatterLayouts=[
 {core:p1Core,dense:p1Dense,oX:p1OutX,oY:p1OutY,fit:p1Fit,lo:p1CiLow,hi:p1CiHigh,hist:p1Hist,yLabels:p1YTickLabels,yMinor:p1YMinor,xA:129.7,xB:315.3,vA:.80,pA:406.7,vB:.92,pB:168.3,L:64,R:408,T:84,B:408,hL:79.3,hR:393,hY:81,rX:411.3,rT:99,rB:393},
 {core:p2Core,dense:p2Dense,oX:p2OutX,oY:p2OutY,fit:p2Fit,lo:p2CiLow,hi:p2CiHigh,hist:p2Hist,yLabels:p2YTickLabels,yMinor:p2YMinor,xA:586.3,xB:772.3,vA:.84,pA:389,vB:.93,pB:156,L:521.7,R:865.7,T:85,B:407,hL:536.7,hR:850,hY:81.3,rX:868.3,rT:99.3,rB:393.7},
 {core:p3Core,dense:p3Dense,oX:p3OutX,oY:p3OutY,fit:p3Fit,lo:p3CiLow,hi:p3CiHigh,hist:p3Hist,yLabels:p3YTickLabels,yMinor:p3YMinor,xA:1014.3,xB:1198.3,vA:.875,pA:357.7,vB:.95,pB:145,L:950,R:1290,T:87,B:410,hL:965,hR:1275.3,hY:84,rX:1293.7,rT:101.7,rB:396},
 {core:p4Core,dense:p4Dense,oX:p4OutX,oY:p4OutY,fit:p4Fit,lo:p4CiLow,hi:p4CiHigh,hist:p4Hist,yLabels:p4YTickLabels,yMinor:p4YMinor,xA:1455,xB:1641,vA:.72,pA:401.3,vB:.84,pB:154,L:1390,R:1733.3,T:83,B:405.7,hL:1405,hR:1718.3,hY:79.3,rX:1737,rT:97.3,rB:391.7},
 {core:p5Core,dense:p5Dense,oX:p5OutX,oY:p5OutY,fit:p5Fit,lo:p5CiLow,hi:p5CiHigh,hist:p5Hist,yLabels:p5YTickLabels,yMinor:p5YMinor,xA:119.3,xB:307,vA:.6,pA:794.3,vB:.8,pB:600,L:54,R:401,T:515,B:838.3,hL:69,hR:385.7,hY:511.7,rX:404.7,rT:529.3,rB:824},
 {core:p6Core,dense:p6Dense,oX:p6OutX,oY:p6OutY,fit:p6Fit,lo:p6CiLow,hi:p6CiHigh,hist:p6Hist,yLabels:p6YTickLabels,yMinor:p6YMinor,xA:586.7,xB:773,vA:.65,pA:793.7,vB:.8,pB:568.3,L:521.7,R:865.7,T:515,B:838,hL:537,hR:850.7,hY:511.7,rX:868.7,rT:529.3,rB:824},
 {core:p7Core,dense:p7Dense,oX:p7OutX,oY:p7OutY,fit:p7Fit,lo:p7CiLow,hi:p7CiHigh,hist:p7Hist,yLabels:p7YTickLabels,yMinor:p7YMinor,xA:1010.7,xB:1196.3,vA:.5,pA:760,vB:.6,pB:595.3,L:945.7,R:1289.3,T:515,B:838,hL:960.7,hR:1274,hY:511.7,rX:1292.7,rT:529.3,rB:824},
 {core:p8Core,dense:p8Dense,oX:p8OutX,oY:p8OutY,fit:p8Fit,lo:p8CiLow,hi:p8CiHigh,hist:p8Hist,yLabels:p8YTickLabels,yMinor:p8YMinor,xA:1447.7,xB:1633.7,vA:.6,pA:813.7,vB:.75,pB:569.3,L:1383.3,R:1726.7,T:515,B:838,hL:1398,hR:1711.7,hY:511.7,rX:1730,rT:529.3,rB:824}
];

function drawScatter(p){
  const g=add(root,'g',{},'scatter-panel');
  const xs=linear(Number(xTickLabels[0]),p.xA,Number(xTickLabels[2]),p.xB);
  const ys=linear(p.vA,p.pA,p.vB,p.pB);
  const grid=add(g,'g',{stroke:'#eeeeee','stroke-width':1.4},'scatter-grid');
  xMinorTicks.concat(xTickLabels.map(Number)).forEach(v=>{
    add(grid,'line',{x1:xs(v),x2:xs(v),y1:p.T,y2:p.B},'x-grid-line');
  });
  p.yLabels.map(Number).concat(p.yMinor).forEach(v=>{
    add(grid,'line',{x1:p.L,x2:p.R,y1:ys(v),y2:ys(v)},'y-grid-line');
  });
  xTickLabels.forEach(l=>{
    const v=Number(l);
    add(g,'line',{x1:xs(v),x2:xs(v),y1:p.B,y2:p.B+1.8,stroke:'#333','stroke-width':.8},'x-tick');
    const t=add(g,'text',{x:xs(v),y:p.B+8.5,'text-anchor':'middle','font-size':6.8,fill:'#555'},'x-tick-label');
    t.textContent=l;
  });
  p.yLabels.forEach(l=>{
    const v=Number(l);
    add(g,'line',{x1:p.L-1.8,x2:p.L,y1:ys(v),y2:ys(v),stroke:'#333','stroke-width':.8},'y-tick');
    const t=add(g,'text',{x:p.L-3.6,y:ys(v)+2.4,'text-anchor':'end','font-size':6.8,fill:'#555'},'y-tick-label');
    t.textContent=l;
  });
  const pts=add(g,'g',{fill:'#000','fill-opacity':.46},'scatter-points');
  m5cCore.forEach((x,i)=>{
    if(p.core[i]===undefined)return;
    add(pts,'circle',{cx:xs(x),cy:ys(p.core[i]),r:3.1},'scatter-point');
  });
  m5cDense.forEach((x,i)=>{
    if(p.dense[i]===undefined)return;
    add(pts,'circle',{cx:xs(x),cy:ys(p.dense[i]),r:3.1},'scatter-point');
  });
  p.oX.forEach((x,i)=>{
    add(pts,'circle',{cx:xs(x),cy:ys(p.oY[i]),r:3.1},'scatter-point');
  });
  const top=ciX.map((x,i)=>xs(x)+','+ys(p.hi[i]));
  const bot=ciX.map((x,i)=>xs(x)+','+ys(p.lo[i])).reverse();
  add(g,'polygon',{points:top.concat(bot).join(' '),fill:'#999','fill-opacity':.4},'confidence-band');
  add(g,'line',{x1:xs(fitX[0]),y1:ys(p.fit[0]),x2:xs(fitX[1]),y2:ys(p.fit[1]),stroke:'#3550a6','stroke-width':1.2},'regression-line');
  // marginal histogram of M5C (top)
  const countPx=2/3;
  const topG=add(g,'g',{fill:'#b0709b',stroke:'#222','stroke-width':.9},'top-histogram');
  const bw=(p.hR-p.hL)/m5cHistCounts.length;
  m5cHistCounts.forEach((c,i)=>{
    if(c<=0)return;
    add(topG,'rect',{x:p.hL+i*bw,y:p.hY-c*countPx,width:bw,height:c*countPx},'top-histogram-bar');
  });
  add(g,'line',{x1:p.hL,x2:p.hR,y1:p.hY,y2:p.hY,stroke:'#111','stroke-width':1.2},'top-histogram-baseline');
  // marginal histogram of the gene set (right)
  const rightG=add(g,'g',{fill:'#4f9070',stroke:'#222','stroke-width':.9},'right-histogram');
  const bh=(p.rB-p.rT)/p.hist.length;
  p.hist.forEach((c,i)=>{
    if(c<=0)return;
    add(rightG,'rect',{x:p.rX,y:p.rT+i*bh,width:c*countPx,height:bh},'right-histogram-bar');
  });
  add(g,'line',{x1:p.rX,x2:p.rX,y1:p.rT,y2:p.rB,stroke:'#111','stroke-width':1.1},'right-histogram-baseline');
}
scatterLayouts.forEach(drawScatter);

// survival panels
const RED='#b5573f',BLUE='#2c4a9e';
const kmLayouts=[
 {L:98.4,R:555.3,T:1042,B:1444.6,x0:118.8,x20:535,y1:1059.7,y0:1425.2,lab:1465.5,key1:235.7,key2:390,redC:km1RedCurve,redU:km1RedUpper,redL:km1RedLower,redX:km1RedCensor,blueC:km1BlueCurve,blueU:km1BlueUpper,blueL:km1BlueLower,blueX:km1BlueCensor},
 {L:669.9,R:1126.8,T:1042,B:1444.6,x0:690.2,x20:1106.5,y1:1059.7,y0:1425.2,lab:1465.5,key1:807.2,key2:961.4,redC:km2RedCurve,redU:km2RedUpper,redL:km2RedLower,redX:km2RedCensor,blueC:km2BlueCurve,blueU:km2BlueUpper,blueL:km2BlueLower,blueX:km2BlueCensor},
 {L:1242,R:1698.5,T:1042.5,B:1443.5,x0:1262.2,x20:1677.9,y1:1059.7,y0:1424.8,lab:1465,key1:1380.5,key2:1535.4,redC:km3RedCurve,redU:km3RedUpper,redL:km3RedLower,redX:km3RedCensor,blueC:km3BlueCurve,blueU:km3BlueUpper,blueL:km3BlueLower,blueX:km3BlueCensor}
];
function stepVerts(pts){
  const out=[];
  pts.forEach((q,i)=>{
    if(i>0)out.push([q[0],pts[i-1][1]]);
    out.push(q);
  });
  return out;
}
function survAt(curve,t){
  let s=curve[0][1];
  for(const q of curve){if(q[0]<=t)s=q[1];else break;}
  return s;
}
function drawKM(k){
  const g=add(root,'g',{},'survival-panel');
  const xs=linear(0,k.x0,20,k.x20);
  const ys=linear(0,k.y0,1,k.y1);
  add(g,'rect',{x:k.L,y:k.T,width:k.R-k.L,height:k.B-k.T,fill:'#fff'},'plot-background');
  const grid=add(g,'g',{stroke:'#efefef'},'survival-grid');
  kmXMinor.forEach(v=>{
    add(grid,'line',{x1:xs(v),x2:xs(v),y1:k.T,y2:k.B,'stroke-width':1},'x-minor-grid-line');
  });
  kmYMinor.forEach(v=>{
    add(grid,'line',{x1:k.L,x2:k.R,y1:ys(v),y2:ys(v),'stroke-width':1},'y-minor-grid-line');
  });
  kmXTickLabels.forEach(l=>{
    const v=Number(l);
    add(grid,'line',{x1:xs(v),x2:xs(v),y1:k.T,y2:k.B,'stroke-width':1.3},'x-grid-line');
  });
  kmYTickLabels.forEach(l=>{
    const v=Number(l);
    add(grid,'line',{x1:k.L,x2:k.R,y1:ys(v),y2:ys(v),'stroke-width':1.3},'y-grid-line');
  });
  const poly=(up,lo)=>stepVerts(up).concat(stepVerts(lo).reverse()).map(q=>xs(q[0])+','+ys(q[1])).join(' ');
  add(g,'polygon',{points:poly(k.redU,k.redL),fill:RED,'fill-opacity':.32},'high-group-confidence-band');
  add(g,'polygon',{points:poly(k.blueU,k.blueL),fill:BLUE,'fill-opacity':.32},'low-group-confidence-band');
  const line=c=>stepVerts(c).map(q=>xs(q[0])+','+ys(q[1])).join(' ');
  add(g,'polyline',{points:line(k.redC),fill:'none',stroke:RED,'stroke-width':1.3},'high-group-survival-curve');
  const redMarks=add(g,'g',{stroke:RED,'stroke-width':2.1},'high-group-censor-marks');
  k.redX.forEach(t=>{
    const cx=xs(t),cy=ys(survAt(k.redC,t));
    add(redMarks,'path',{d:`M${cx-6} ${cy}H${cx+6}M${cx} ${cy-6}V${cy+6}`},'censor-mark');
  });
  add(g,'polyline',{points:line(k.blueC),fill:'none',stroke:BLUE,'stroke-width':1.3},'low-group-survival-curve');
  const blueMarks=add(g,'g',{stroke:BLUE,'stroke-width':2.1},'low-group-censor-marks');
  k.blueX.forEach(t=>{
    const cx=xs(t),cy=ys(survAt(k.blueC,t));
    add(blueMarks,'path',{d:`M${cx-6} ${cy}H${cx+6}M${cx} ${cy-6}V${cy+6}`},'censor-mark');
  });
  add(g,'rect',{x:k.L,y:k.T,width:k.R-k.L,height:k.B-k.T,fill:'none',stroke:'#9c9c9c','stroke-width':1.5},'plot-frame');
  kmXTickLabels.forEach(l=>{
    const v=Number(l);
    add(g,'line',{x1:xs(v),x2:xs(v),y1:k.B,y2:k.B+3.5,stroke:'#444','stroke-width':1},'x-tick');
    const t=add(g,'text',{x:xs(v),y:k.lab,'text-anchor':'middle','font-size':16.4,fill:'#4d4d4d'},'x-tick-label');
    t.textContent=l;
  });
  kmYTickLabels.forEach(l=>{
    const v=Number(l);
    add(g,'line',{x1:k.L-3.5,x2:k.L,y1:ys(v),y2:ys(v),stroke:'#444','stroke-width':1},'y-tick');
    const t=add(g,'text',{x:k.L-7,y:ys(v)+6,'text-anchor':'end','font-size':16.4,fill:'#4d4d4d'},'y-tick-label');
    t.textContent=l;
  });
  // legend keys
  [[k.key1,RED],[k.key2,BLUE]].forEach(e=>{
    const lx=e[0],col=e[1];
    add(g,'rect',{x:lx,y:979.3,width:29.9,height:29.9,fill:col,'fill-opacity':.32},'legend-key');
    add(g,'path',{d:`M${lx+2.5} 994H${lx+27.5}M${lx+15} 987.5V1000M${lx+9} 992.5H${lx+21}`,stroke:col,'stroke-width':1.4,fill:'none'},'legend-key-symbol');
  });
}
kmLayouts.forEach(drawKM);
</script>
</body>
</html>
